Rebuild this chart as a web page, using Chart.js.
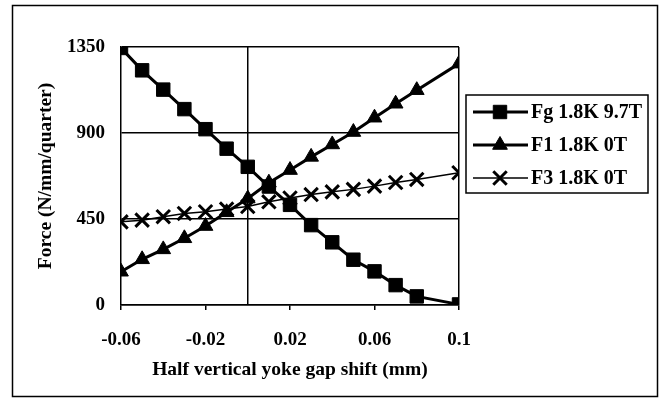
<!DOCTYPE html>
<html>
<head>
<meta charset="utf-8">
<script src="https://cdn.jsdelivr.net/npm/chart.js@4.4.1/dist/chart.umd.min.js"></script>
<style>
  html, body { margin: 0; padding: 0; background: #fff; }
  #wrap { width: 665px; height: 399px; position: relative; }
</style>
</head>
<body>
<div id="wrap"><canvas id="forceChart"></canvas></div>
<script>
// gap shift values (mm), 0.09 is not measured
const shift = [-0.06, -0.05, -0.04, -0.03, -0.02, -0.01, 0, 0.01, 0.02, 0.03, 0.04, 0.05, 0.06, 0.07, 0.08, 0.1];
const fgForce = [1345, 1228, 1127, 1025, 920, 818, 723, 620, 524, 418, 328, 237, 176, 104, 45, 3];
const f1Force = [174, 239, 291, 349, 413, 485, 557, 640, 706, 775, 840, 905, 980, 1053, 1124, 1263];
const f3Force = [435, 444, 462, 479, 488, 502, 515, 540, 560, 578, 592, 605, 622, 641, 657, 692];
const seriesNames = ['Fg 1.8K 9.7T', 'F1 1.8K 0T', 'F3 1.8K 0T'];

const xTicks = [-0.06, -0.02, 0.02, 0.06, 0.1];
const xGridAt = [0, 0.1];
const yTicks = [0, 450, 900, 1350];

const FONT = 'Liberation Serif, Times New Roman, serif';

function toPoints(ys) {
    return shift.map((x, i) => ({ x: x, y: ys[i] }));
}

const datasets = [
    { label: seriesNames[0], data: toPoints(fgForce), pointStyle: 'rect', pointRadius: 9.5, borderWidth: 3, pointBorderWidth: 1 },
    { label: seriesNames[1], data: toPoints(f1Force), pointStyle: 'triangle', pointRadius: 8.5, borderWidth: 3, pointBorderWidth: 1 },
    { label: seriesNames[2], data: toPoints(f3Force), pointStyle: 'crossRot', pointRadius: 9.5, borderWidth: 1.5, pointBorderWidth: 3 }
].map(d => Object.assign(d, {
    borderColor: '#000',
    backgroundColor: '#000',
    pointBackgroundColor: '#000',
    pointBorderColor: '#000',
    pointHoverRadius: d.pointRadius,
    tension: 0
}));

// outer frame, axis titles and legend box
const decorPlugin = {
    id: 'decor',
    afterDraw(chart) {
        const ctx = chart.ctx;
        const area = chart.chartArea;
        ctx.save();
        ctx.strokeStyle = '#000';
        ctx.lineWidth = 1.5;
        ctx.strokeRect(12.5, 5.5, 645, 391);

        ctx.fillStyle = '#000';
        ctx.font = 'bold 19.5px ' + FONT;
        ctx.textAlign = 'center';
        ctx.textBaseline = 'middle';
        ctx.fillText('Half vertical yoke gap shift (mm)', (area.left + area.right) / 2, 370);

        ctx.save();
        ctx.translate(46, (area.top + area.bottom) / 2);
        ctx.rotate(-Math.PI / 2);
        ctx.fillText('Force (N/mm/quarter)', 0, 0);
        ctx.restore();

        // legend
        ctx.lineWidth = 1.5;
        ctx.strokeRect(466, 95, 182, 98);
        ctx.textAlign = 'left';
        ctx.font = 'bold 20px ' + FONT;
        chart.data.datasets.forEach((ds, i) => {
            const y = 112 + i * 33;
            ctx.beginPath();
            ctx.lineWidth = ds.borderWidth;
            ctx.moveTo(473, y);
            ctx.lineTo(528, y);
            ctx.stroke();
            if (Chart.helpers && Chart.helpers.drawPoint) {
                ctx.lineWidth = ds.pointBorderWidth;
                Chart.helpers.drawPoint(ctx, {
                    pointStyle: ds.pointStyle,
                    radius: ds.pointRadius,
                    borderWidth: ds.pointBorderWidth,
                    rotation: 0
                }, 500, y);
            }
            ctx.fillText(ds.label, 531, y + 1);
        });
        ctx.restore();
    }
};

new Chart(document.getElementById('forceChart'), {
    type: 'line',
    data: { datasets: datasets },
    options: {
        responsive: true,
        maintainAspectRatio: false,
        devicePixelRatio: 1,
        animation: false,
        layout: { padding: { left: 0, top: 47, right: 206, bottom: 0 } },
        plugins: {
            legend: { display: false },
            tooltip: { enabled: false }
        },
        scales: {
            x: {
                type: 'linear',
                min: -0.06,
                max: 0.1,
                afterBuildTicks: (scale) => {
                    const vals = xTicks.concat(xGridAt).filter((v, i, a) => a.indexOf(v) === i).sort((a, b) => a - b);
                    scale.ticks = vals.map(v => ({ value: v }));
                },
                afterFit: (scale) => { scale.height = 94; },
                border: { color: '#000', width: 1.5 },
                grid: {
                    color: (c) => xGridAt.includes(c.tick && c.tick.value) ? '#000' : 'rgba(0,0,0,0)',
                    tickColor: (c) => xTicks.includes(c.tick && c.tick.value) ? '#000' : 'rgba(0,0,0,0)',
                    lineWidth: 1.5,
                    tickLength: 5
                },
                ticks: {
                    autoSkip: false,
                    maxRotation: 0,
                    padding: 19,
                    color: '#000',
                    font: { family: FONT, size: 19, weight: 'bold' },
                    callback: (v) => xTicks.includes(v) ? String(v) : ''
                }
            },
            y: {
                min: 0,
                max: 1350,
                afterBuildTicks: (scale) => { scale.ticks = yTicks.map(v => ({ value: v })); },
                afterFit: (scale) => { scale.width = 121; },
                border: { color: '#000', width: 1.5 },
                grid: { color: '#000', lineWidth: 1.5, drawTicks: false },
                ticks: {
                    padding: 16,
                    color: '#000',
                    font: { family: FONT, size: 19, weight: 'bold' },
                    callback: (v) => String(v)
                }
            }
        }
    },
    plugins: [decorPlugin]
});
</script>
</body>
</html>
